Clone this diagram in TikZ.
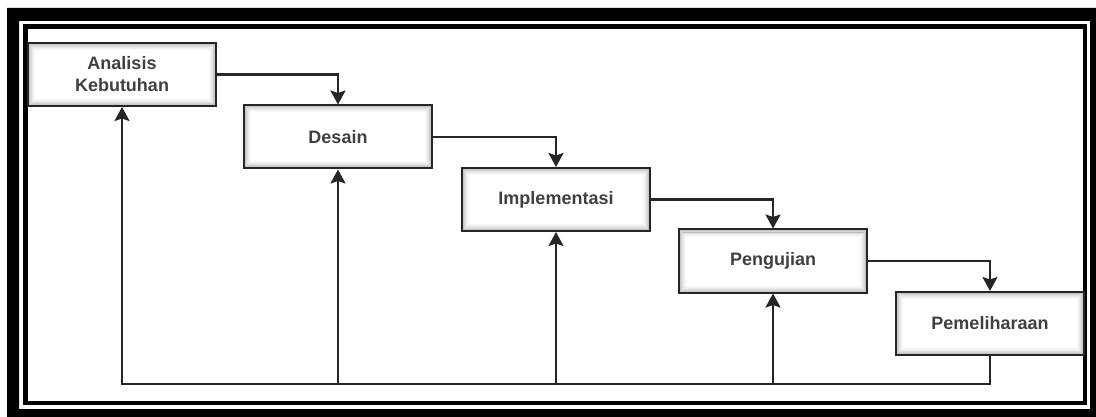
\documentclass[tikz,border=0pt]{standalone}
\usepackage{fontspec}
\setmainfont{Liberation Sans}
\usetikzlibrary{arrows.meta,calc}
\tikzset{
  wfbox/.style={draw=black!85, line width=2pt, fill=white, minimum width=188pt, minimum height=63pt,
    inner sep=0pt, align=center, text=black!75, font=\bfseries\fontsize{18}{22}\selectfont,
    path picture={
      \foreach \i/\o in {1.5/0.22,2.5/0.17,3.5/0.12,4.5/0.08,5.5/0.05,6.5/0.03}
        \draw[black, opacity=\o, line width=1pt]
          ([shift={(\i pt,-\i pt)}]path picture bounding box.north west) rectangle
          ([shift={(-\i pt,\i pt)}]path picture bounding box.south east);
    }},
  conn/.style={draw=black!85, line width=2.4pt, -{Stealth[length=14pt, width=15pt, inset=2.5pt]}},
}
\begin{document}
\begin{tikzpicture}[x=1pt,y=-1pt]
\useasboundingbox (0,0) rectangle (1096,417);
% outer frame
\fill[black, even odd rule] (7,8) rectangle (1110,430) (19,21) rectangle (1090,409);
\draw[black, line width=4.5pt] (25.5,26.5) rectangle (1085,403);
% boxes
\node[wfbox] (b1) at (122,74.5) {Analisis\\Kebutuhan};
\node[wfbox] (b2) at (338,137) {Desain};
\node[wfbox] (b3) at (556,199.5) {Implementasi};
\node[wfbox] (b4) at (773,261) {Pengujian};
\node[wfbox] (b5) at (990,323.5) {Pemeliharaan};
% forward connectors
\draw[conn] (b1.east) -| (b2.north);
\draw[conn] (b2.east) -| (b3.north);
\draw[conn] (b3.east) -| (b4.north);
\draw[conn] (b4.east) -| (b5.north);
% feedback
\coordinate (fbl) at ($(b1.south)+(0,277)$);
\draw[conn] (b5.south) |- (fbl) -- (b1.south);
\draw[conn] (b2.south |- fbl) -- (b2.south);
\draw[conn] (b3.south |- fbl) -- (b3.south);
\draw[conn] (b4.south |- fbl) -- (b4.south);
\end{tikzpicture}
\end{document}
